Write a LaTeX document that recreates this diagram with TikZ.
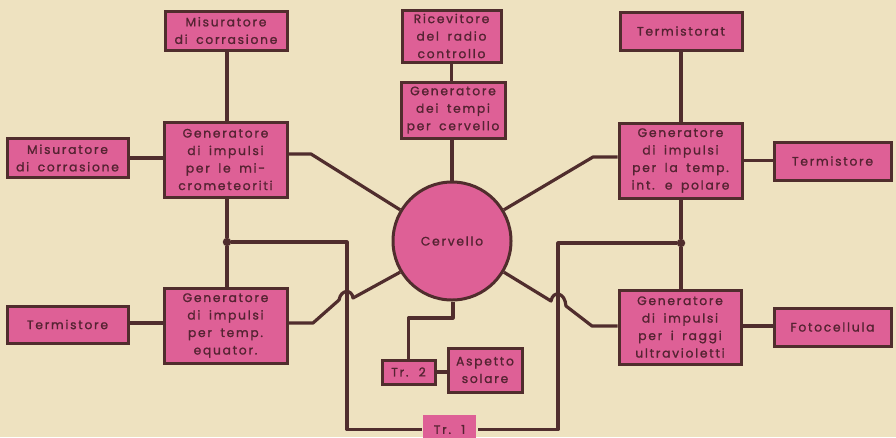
\documentclass[tikz,border=0pt]{standalone}
\usepackage{fontspec}
\setmainfont{Poppins}[LetterSpace=14, FakeBold=1.2, WordSpace=1.7]
\definecolor{paper}{RGB}{238,226,192}
\definecolor{pinkc}{RGB}{222,96,150}
\definecolor{brd}{RGB}{80,45,45}
\definecolor{ink}{RGB}{85,35,50}
\tikzset{
  box/.style={draw=brd, line width=3pt, fill=pinkc, inner sep=0pt, align=center,
     text=ink, font=\fontsize{12.3}{17.5}\selectfont},
  conn/.style={draw=brd, line width=3.2pt, line join=round},
  jdot/.style={circle, fill=brd, inner sep=0pt, minimum size=8.5pt}
}
\begin{document}
\begin{tikzpicture}[x=1pt,y=-1pt]
\fill[paper] (0,0) rectangle (896,437);
\useasboundingbox (0,0) rectangle (896,437);
% nodes
\node[box, minimum width=122pt, minimum height=39pt] (mis1) at (226,30.5) {Misuratore\\di corrasione};
\node[box, minimum width=123pt, minimum height=75pt] (genA) at (225.5,159.5) {Generatore\\di impulsi\\per le mi-\\crometeoriti};
\node[box, minimum width=121pt, minimum height=39pt] (mis2) at (67.5,158) {Misuratore\\di corrasione};
\node[box, minimum width=99pt, minimum height=52pt] (ric) at (451.5,36) {Ricevitore\\del radio\\controllo};
\node[box, minimum width=104pt, minimum height=56pt] (genT) at (453,110) {Generatore\\dei tempi\\per cervello};
\node[box, circle, minimum size=118pt] (cerv) at (452,241) {Cervello};
\node[box, minimum width=122pt, minimum height=38pt] (term1) at (681,31) {Termistorat};
\node[box, minimum width=123pt, minimum height=75pt] (genB) at (680.5,160.5) {Generatore\\di impulsi\\per la temp.\\int. e polare};
\node[box, minimum width=117pt, minimum height=38pt] (term2) at (832.5,161) {Termistore};
\node[box, minimum width=121pt, minimum height=37pt] (term3) at (67.5,324.5) {Termistore};
\node[box, minimum width=123pt, minimum height=75pt] (genC) at (225.5,325.5) {Generatore\\di impulsi\\per temp.\\equator.};
\node[box, minimum width=122pt, minimum height=74pt] (genD) at (680,327) {Generatore\\di impulsi\\per i raggi\\ultravioletti};
\node[box, minimum width=117pt, minimum height=38pt] (foto) at (832.5,327) {Fotocellula};
\node[box, minimum width=53pt, minimum height=24pt] (tr2) at (408.5,372) {Tr. 2};
\node[box, minimum width=74pt, minimum height=44pt] (asp) at (485,370) {Aspetto\\solare};
\node[box, draw=none, minimum width=53pt, minimum height=30pt, anchor=north] (tr1) at (449.5,413) {Tr. 1};
% junctions
\node[jdot] (jl) at (227,242) {};
\node[jdot] (jr) at (681,243) {};
\coordinate (bl) at (347,242);
\coordinate (br) at (558,243);
% connectors
\draw[conn] (mis1.south -| genA.north) ++(1.5,0) coordinate (m1s) -- (m1s |- genA.north);
\draw[conn] (mis2.east) -- (mis2.east -| genA.west);
\draw[conn] ([yshift=5.5pt]genA.east) -- (311,154) -- (cerv.149);
\draw[conn] (ric.south) -- (ric.south |- genT.north);
\draw[conn] (genT.south -| cerv.north) -- (cerv.north);
\draw[conn] ([yshift=3.5pt]genB.west) -- (593,157) -- (cerv.31);
\draw[conn] (term1.south) -- (term1.south |- genB.north);
\draw[conn] (genB.east) -- (genB.east -| term2.west);
\draw[conn] (jl |- genA.south) -- (jl) -- (jl |- genC.north);
\draw[conn] (jr |- genB.south) -- (jr) -- (jr |- genD.north);
\draw[conn] (jl) -- (bl) -- (bl |- tr1.west) coordinate (bl2) -- (tr1.west |- bl2);
\draw[conn] (jr) -- (br) -- (br |- tr1.east) coordinate (br2) -- (tr1.east |- br2);
\draw[conn] (term3.east |- 0,323) -- (genC.west |- 0,323);
\draw[conn] (genC.east |- 0,323) -- (313,323) -- (339,300)
   .. controls (341,289) and (352,289) .. (353,298) -- (cerv.211);
\draw[conn] (cerv.329) -- (551,301) .. controls (553,290) and (565,292) .. (566,306)
   -- (592,326) -- (genD.west |- 0,326);
\draw[conn] (genD.east |- 0,326) -- (foto.west |- 0,326);
\draw[conn] (cerv.south) ++(1,0) coordinate (cs) -- (cs |- 0,318) -- (tr2.north |- 0,318) -- (tr2.north);
\draw[conn] (tr2.east) -- (tr2.east -| asp.west);
\end{tikzpicture}
\end{document}
